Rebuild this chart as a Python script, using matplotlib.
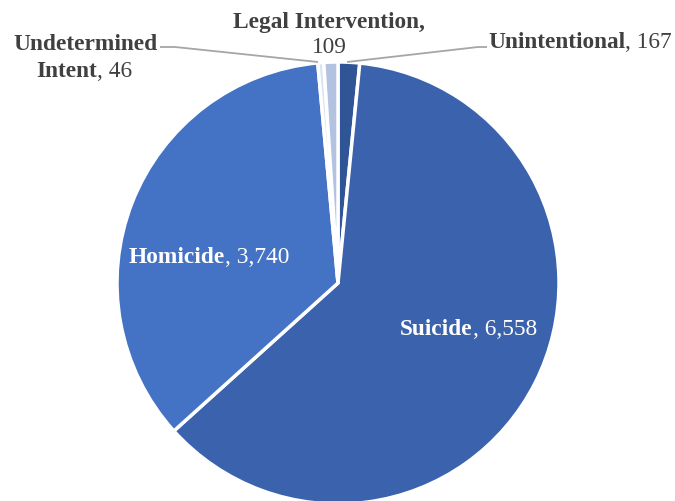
import matplotlib
matplotlib.use("Agg")
import matplotlib.pyplot as plt

categories = ["Unintentional", "Suicide", "Homicide", "Undetermined Intent", "Legal Intervention"]
values = [167, 6558, 3740, 46, 109]
colors = ["#2f5597", "#3b63ad", "#4472c4", "#dae3f3", "#b4c2e2"]

plt.rcParams['font.family'] = ['Liberation Serif', 'DejaVu Serif']
W, H = 675, 501
cx, cy, r = 338, 283, 221
FS = 16.8
grey = "#404040"

fig = plt.figure(figsize=(W / 100, H / 100), dpi=100)
ax = fig.add_axes([(cx - r) / W, (H - cy - r) / H, 2 * r / W, 2 * r / H])
ax.pie(values, colors=colors, startangle=90, counterclock=False, radius=1,
       wedgeprops=dict(edgecolor="white", linewidth=2.5))
ax.set_xlim(-1, 1)
ax.set_ylim(-1, 1)
ax.set_aspect("equal")
ax.axis("off")


def px(x, y):
    # pixel position in the picture -> pie data coordinates
    return (x - cx) / r, (cy - y) / r


def label(x, y, bold, rest, color=grey):
    t = ax.text(*px(x, y), bold, fontsize=FS, fontweight="bold", color=color,
                ha="left", va="baseline", clip_on=False)
    if rest:
        ax.annotate(rest, xy=(1, 0), xycoords=t, fontsize=FS, color=color,
                    ha="left", va="bottom", annotation_clip=False)


# leader lines
line_kw = dict(color="#a6a6a6", lw=1.3, clip_on=False, solid_capstyle="butt")
ax.plot(*zip(px(160, 47), px(175, 47), px(318, 62)), **line_kw)
ax.plot(*zip(px(347, 62), px(478, 47), px(487, 47)), **line_kw)

label(129, 263, "Homicide", ", 3,740", color="white")
label(400, 335, "Suicide", ", 6,558", color="white")
label(488, 48, "Unintentional", ", 167")
ax.text(*px(329, 28), "Legal Intervention,", fontsize=FS, fontweight="bold",
        color=grey, ha="center", va="baseline", clip_on=False)
ax.text(*px(329, 53), "109", fontsize=FS, color=grey, ha="center",
        va="baseline", clip_on=False)
ax.text(*px(85, 50), "Undetermined", fontsize=FS, fontweight="bold",
        color=grey, ha="center", va="baseline", clip_on=False)
label(36, 77, "Intent", ", 46")

fig.savefig("out.png", dpi=100)
